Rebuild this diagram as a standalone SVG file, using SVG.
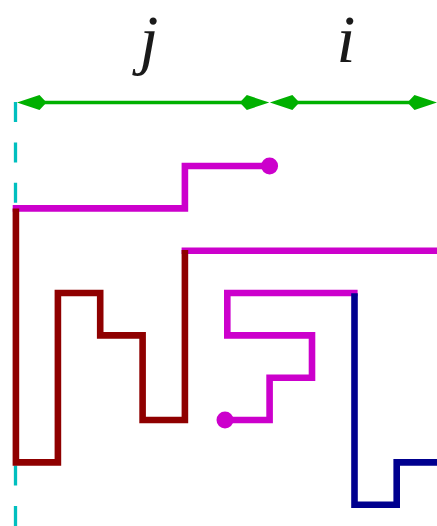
<svg xmlns="http://www.w3.org/2000/svg" width="437" height="526" viewBox="0 0 437 526">
<style>
.lbl{font-family:"Liberation Serif","DejaVu Serif",serif;font-style:italic;font-size:68px;fill:#1a1a1a;text-anchor:middle}
.mag{fill:none;stroke:#cc00cc;stroke-width:6.6;stroke-linecap:square;stroke-linejoin:miter}
.red{fill:none;stroke:#8f0000;stroke-width:6.6;stroke-linecap:butt;stroke-linejoin:miter}
.navy{fill:none;stroke:#00008f;stroke-width:6.6;stroke-linecap:butt;stroke-linejoin:miter}
.dim{stroke:#00b000;stroke-width:3.5}
.ah{fill:#00b000}
.dot{fill:#cc00cc}
</style>
<defs>
<path id="ah" d="M0,0 L-22.5,-7.5 L-29.5,0 L-22.5,7.5 Z"/>
</defs>
<g id="guide">
<line x1="15.5" y1="102" x2="15.5" y2="526" stroke="#00bfbf" stroke-width="3.3" stroke-dasharray="20,20.4"/>
</g>
<g id="dimensions">
<line class="dim" x1="40" y1="102.5" x2="245" y2="102.5"/>
<line class="dim" x1="293" y1="102.5" x2="412" y2="102.5"/>
<use href="#ah" class="ah" transform="translate(17,102.5) rotate(180)"/>
<use href="#ah" class="ah" transform="translate(269.3,102.5)"/>
<use href="#ah" class="ah" transform="translate(269.9,102.5) rotate(180)"/>
<use href="#ah" class="ah" transform="translate(437,102.5)"/>
<text class="lbl" x="149" y="61.5">j</text>
<text class="lbl" x="346" y="61.5">i</text>
</g>
<g id="paths">
<polyline id="m1" class="mag" points="269.6,166 184.9,166 184.9,208.4 16,208.4"/>
<circle class="dot" cx="269.6" cy="166" r="8.5"/>
<polyline id="m2" class="mag" points="184.9,250.7 440,250.7"/>
<polyline id="m3" class="mag" points="354.3,293 227.3,293 227.3,335.4 312,335.4 312,377.7 269.6,377.7 269.6,420 227.3,420"/>
<circle class="dot" cx="225" cy="420" r="8.5"/>
<polyline id="r1" class="red" points="15.9,208.4 15.9,462.4 57.9,462.4 57.9,293 100.2,293 100.2,335.4 142.6,335.4 142.6,420 184.9,420 184.9,250"/>
<polyline id="n1" class="navy" points="354.5,293.3 354.5,504.8 396.7,504.8 396.7,462.4 440,462.4"/>
</g>
</svg>
